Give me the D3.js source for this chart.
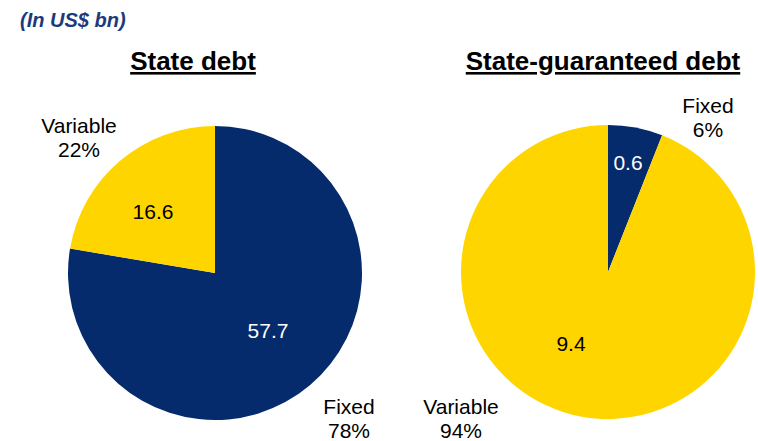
<!DOCTYPE html>
<html><head><meta charset="utf-8">
<script src="https://cdn.jsdelivr.net/npm/d3@7"></script>
<style>body{margin:0;background:#fff}svg{display:block;font-family:Arial,"Liberation Sans",sans-serif}</style>
</head><body>
<svg id="c" width="758" height="441"></svg>
<script>
const unitLabel = "(In US$ bn)";
const chartTitles = ["State debt", "State-guaranteed debt"];
const categories = ["Fixed", "Variable"];
const stateDebt = [57.7, 16.6];
const stateGuaranteed = [0.6, 9.4];
const percentLabels = [["78%", "22%"], ["6%", "94%"]];
const colors = {Fixed: "#052B6C", Variable: "#FFD500"};

const svg = d3.select("#c");
svg.append("text").attr("x", 20).attr("y", 27)
  .attr("font-size", 20).attr("font-weight", "bold").attr("font-style", "italic")
  .attr("fill", "#1A3A7C").text(unitLabel);

const layout = [
  {cx: 215, cy: 273, r: 147, titleX: 193,
   inner: [[53, 58], [-62, -61]], outer: [[134, 134], [-136, -147]]},
  {cx: 608, cy: 272, r: 147, titleX: 603,
   inner: [[20, -109], [-37, 72]], outer: [[100, -166], [-147, 135]]}
];
const datasets = [stateDebt, stateGuaranteed];
const pie = d3.pie().sort(null).value(d => d.v);

datasets.forEach((vals, i) => {
  const L = layout[i];
  svg.append("text").attr("x", L.titleX).attr("y", 70)
    .attr("text-anchor", "middle").attr("font-size", 26).attr("font-weight", "bold")
    .attr("text-decoration", "underline").attr("fill", "#000").text(chartTitles[i]);
  const g = svg.append("g").attr("transform", `translate(${L.cx},${L.cy})`);
  const arcs = pie(vals.map((v, k) => ({c: categories[k], v})));
  const arc = d3.arc().innerRadius(0).outerRadius(L.r);
  g.selectAll("path").data(arcs).join("path")
    .attr("d", arc).attr("fill", d => colors[d.data.c]);
  g.selectAll("text.val").data(arcs).join("text").attr("class", "val")
    .attr("x", (d, k) => L.inner[k][0]).attr("y", (d, k) => L.inner[k][1])
    .attr("dy", "0.35em").attr("text-anchor", "middle").attr("font-size", 21)
    .attr("fill", d => d.data.c === "Fixed" ? "#fff" : "#000")
    .text(d => d.data.v.toFixed(1));
  arcs.forEach((d, k) => {
    const tx = g.append("text").attr("text-anchor", "middle").attr("font-size", 21).attr("fill", "#000")
      .attr("x", L.outer[k][0]).attr("y", L.outer[k][1]);
    tx.append("tspan").attr("x", L.outer[k][0]).attr("dy", "0.35em").text(d.data.c);
    tx.append("tspan").attr("x", L.outer[k][0]).attr("dy", "1.14em").text(percentLabels[i][k]);
  });
});
</script>
</body></html>
